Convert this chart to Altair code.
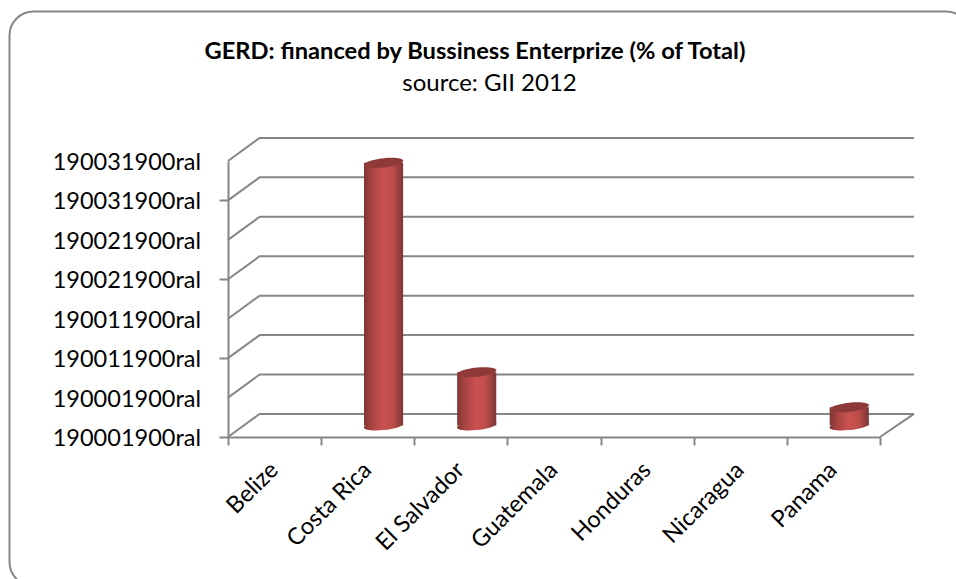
import altair as alt
import pandas as pd

# Chart content
TITLE = "GERD: financed by Bussiness Enterprize (% of Total)"
SUBTITLE = "source: GII 2012"
countries = ["Belize", "Costa Rica", "El Salvador", "Guatemala", "Honduras", "Nicaragua", "Panama"]
values = [0, 6.66, 1.35, 0, 0, 0, 0.46]
tick_labels = [
    "190001900ral", "190001900ral", "190011900ral", "190011900ral",
    "190021900ral", "190021900ral", "190031900ral", "190031900ral",
]
ticks = list(range(len(tick_labels)))

# Perspective shift of the back wall, in axis units
DEPTH_X = 0.34
DEPTH_Y = 0.585
BACK_RIGHT = len(countries) + 0.365
BAR_HALF = 0.21

GREY = "#868686"
FONT = "Lato"

x_scale = alt.Scale(domain=[0, len(countries)], nice=False, zero=False)
y_scale = alt.Scale(domain=[0, len(ticks) - 1], nice=False, zero=False)

# Wall and floor lines: side-wall diagonal plus back-wall run for each tick
grid_rows = []
for t in ticks:
    grid_rows += [
        {"line": t, "x": 0, "y": t},
        {"line": t, "x": DEPTH_X, "y": t + DEPTH_Y},
        {"line": t, "x": BACK_RIGHT, "y": t + DEPTH_Y},
    ]
grid_rows += [
    {"line": "floor", "x": len(countries), "y": 0},
    {"line": "floor", "x": BACK_RIGHT, "y": DEPTH_Y},
]
grid_df = pd.DataFrame(grid_rows)

# Cylinders stand half way into the floor's depth
bars = pd.DataFrame({"country": countries, "value": values})
bars["pos"] = bars.index + 0.5 + DEPTH_X / 2
bars["left"] = bars["pos"] - BAR_HALF
bars["right"] = bars["pos"] + BAR_HALF
bars["base"] = DEPTH_Y / 2
bars["top"] = bars["base"] + bars["value"]
bars = bars[bars["value"] > 0]

labels_df = pd.DataFrame({"country": countries})
labels_df["pos"] = labels_df.index + 0.5
labels_df["level"] = -0.75

ytext_df = pd.DataFrame({"tick": ticks, "label": tick_labels})


def ellipse_path(ry=0.235, tilt=0.105):
    """Sheared ellipse in the unit box used for custom point shapes."""
    k = 0.5523

    def p(c, s):
        return f"{c:.4f},{-tilt * c + ry * s:.4f}"

    return (
        f"M{p(1, 0)}"
        f"C{p(1, k)} {p(k, 1)} {p(0, 1)}"
        f"C{p(-k, 1)} {p(-1, k)} {p(-1, 0)}"
        f"C{p(-1, -k)} {p(-k, -1)} {p(0, -1)}"
        f"C{p(k, -1)} {p(1, -k)} {p(1, 0)}Z"
    )


def body_gradient():
    return alt.Gradient(
        gradient="linear",
        x1=0, x2=1, y1=0, y2=0,
        stops=[
            alt.GradientStop(color="#7d3634", offset=0),
            alt.GradientStop(color="#a84442", offset=0.2),
            alt.GradientStop(color="#c9524f", offset=0.48),
            alt.GradientStop(color="#c04e4b", offset=0.72),
            alt.GradientStop(color="#7d3634", offset=1),
        ],
    )


# Rounded border; it runs past the right and bottom edges of the canvas
frame = alt.Chart(pd.DataFrame({"k": [0]})).mark_rect(
    cornerRadius=24, fill="transparent", stroke=GREY, strokeWidth=2
).encode(
    x=alt.value(9.5 - 228),
    x2=alt.value(970 - 228),
    y=alt.value(11.5 - 161),
    y2=alt.value(586 - 161),
)

walls = alt.Chart(grid_df).mark_line(color=GREY, strokeWidth=2).encode(
    x=alt.X("x:Q", scale=x_scale, axis=alt.Axis(
        values=list(range(len(countries) + 1)), labels=False, title=None, grid=False,
        domainColor=GREY, domainWidth=2, tickColor=GREY, tickWidth=2, tickSize=8,
    )),
    y=alt.Y("y:Q", scale=y_scale, axis=alt.Axis(
        values=ticks, title=None, grid=False, labels=False,
        domainColor=GREY, domainWidth=2, tickColor=GREY, tickWidth=2, tickSize=9,
    )),
    detail="line:N",
    order=alt.Order("x:Q"),
)

value_labels = alt.Chart(ytext_df).mark_text(
    align="right", baseline="middle", dy=2, font=FONT, fontSize=23.5, color="black",
).encode(
    x=alt.value(201 - 228),
    y=alt.Y("tick:Q", scale=y_scale),
    text="label:N",
)

base_cap = alt.Chart(bars).mark_point(
    filled=True, shape=ellipse_path(), size=1552, opacity=1, strokeWidth=0,
    fill=body_gradient(),
).encode(
    x=alt.X("pos:Q", scale=x_scale),
    y=alt.Y("base:Q", scale=y_scale),
)

body = alt.Chart(bars).mark_rect(fill=body_gradient()).encode(
    x=alt.X("left:Q", scale=x_scale),
    x2="right:Q",
    y=alt.Y("top:Q", scale=y_scale),
    y2="base:Q",
)

top_cap = alt.Chart(bars).mark_point(
    filled=True, shape=ellipse_path(), size=1552, opacity=1, strokeWidth=0,
    fill="#8e3a38",
).encode(
    x=alt.X("pos:Q", scale=x_scale),
    y=alt.Y("top:Q", scale=y_scale),
)

category_labels = alt.Chart(labels_df).mark_text(
    angle=315, align="right", baseline="middle",
    font=FONT, fontSize=23.5, color="black",
).encode(
    x=alt.X("pos:Q", scale=x_scale),
    y=alt.Y("level:Q", scale=y_scale),
    text="country:N",
)

# Second heading line sits off-centre from the bold one, so it gets its own mark
source_line = alt.Chart(pd.DataFrame({"text": [SUBTITLE]})).mark_text(
    align="center", baseline="middle", font=FONT, fontSize=24, color="black",
).encode(
    x=alt.value(489.5 - 228),
    y=alt.value(84 - 161),
    text="text:N",
)

chart = (
    alt.layer(frame, walls, value_labels, base_cap, body, top_cap, category_labels, source_line)
    .properties(
        width=652,
        height=276,
        padding={"left": 228, "top": 161, "right": 76, "bottom": 142},
        autosize=alt.AutoSizeParams(type="none"),
        background="white",
        title=alt.TitleParams(
            text=TITLE,
            font=FONT,
            fontSize=23.7,
            fontWeight="bold",
            color="black",
            anchor="middle",
            dx=-79,
            offset=-53,
        ),
    )
    .configure_view(stroke=None)
)

chart.save("out.html", embed_options={"renderer": "svg", "actions": False})
